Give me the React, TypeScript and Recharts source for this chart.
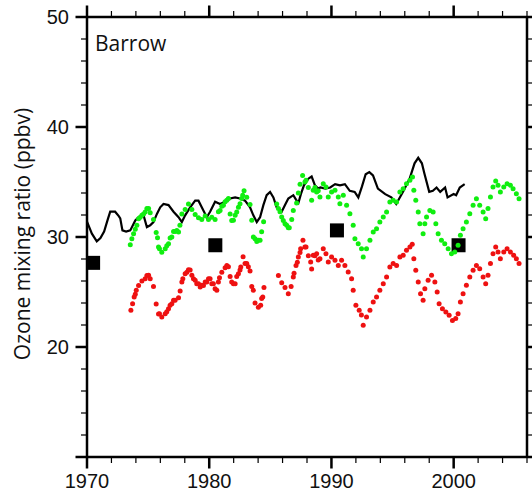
import React from 'react';
import { ComposedChart, Scatter, XAxis, YAxis, ReferenceLine } from 'recharts';

// Axis tick values: minor every 2 units, major (labelled) every 10
const xMinorTicks = [1970, 1972, 1974, 1976, 1978, 1980, 1982, 1984, 1986, 1988, 1990, 1992, 1994, 1996, 1998, 2000, 2002, 2004, 2006];
const xMajorTicks = [1970, 1980, 1990, 2000];
const yMinorTicks = [10, 12, 14, 16, 18, 20, 22, 24, 26, 28, 30, 32, 34, 36, 38, 40, 42, 44, 46, 48, 50];
const yMajorTicks = [10, 20, 30, 40, 50];

// Continuous record (black line)
const blackYears = [1970.0, 1970.4, 1970.8, 1971.1, 1971.4, 1971.7, 1971.9, 1972.3, 1972.6, 1972.72, 1972.9, 1973.2, 1973.54, 1973.95, 1974.22, 1974.63, 1974.9, 1975.17, 1975.44, 1975.72, 1975.99, 1976.26, 1976.67, 1977.08, 1977.49, 1977.76, 1978.03, 1978.44, 1978.85, 1979.12, 1979.39, 1979.8, 1980.07, 1980.48, 1980.89, 1981.3, 1981.71, 1982.12, 1982.52, 1982.93, 1983.34, 1983.61, 1983.89, 1984.16, 1984.43, 1984.7, 1984.98, 1985.25, 1985.52, 1985.93, 1986.2, 1986.47, 1986.88, 1987.1, 1987.3, 1987.5, 1987.75, 1988.11, 1988.38, 1988.65, 1988.92, 1989.1, 1989.5, 1989.9, 1990.3, 1990.7, 1991.1, 1991.5, 1991.9, 1992.2, 1992.5, 1992.8, 1993.1, 1993.4, 1993.8, 1994.4, 1994.9, 1995.3, 1995.9, 1996.4, 1996.8, 1997.1, 1997.4, 1997.6, 1998.0, 1998.3, 1998.6, 1998.9, 1999.3, 1999.5, 2000.0, 2000.2, 2000.5, 2000.9];
const blackValues = [31.4, 30.3, 29.6, 29.9, 30.5, 31.6, 32.3, 32.3, 31.9, 31.7, 30.6, 30.5, 30.6, 31.5, 31.8, 31.97, 30.9, 31.06, 31.36, 32.1, 32.7, 33.0, 32.9, 32.3, 31.8, 31.36, 31.97, 32.7, 33.3, 33.3, 32.7, 31.8, 32.3, 33.2, 33.0, 33.2, 33.5, 33.6, 33.5, 33.3, 32.7, 31.97, 31.36, 31.8, 32.9, 33.8, 34.1, 33.6, 32.7, 32.3, 32.9, 33.5, 33.8, 33.4, 33.1, 33.9, 34.7, 35.3, 35.5, 34.7, 34.4, 34.5, 34.4, 34.5, 34.8, 34.7, 34.8, 34.2, 34.1, 33.6, 34.6, 35.7, 35.9, 35.6, 34.4, 33.9, 33.6, 33.0, 34.2, 35.3, 36.7, 37.2, 36.7, 35.8, 34.1, 34.2, 34.5, 34.1, 34.5, 33.6, 33.9, 33.8, 34.5, 34.8];

// Green series
const greenYears = [1973.54, 1973.67, 1973.81, 1973.95, 1974.08, 1974.22, 1974.35, 1974.49, 1974.63, 1974.76, 1974.9, 1975.04, 1975.17, 1975.44, 1975.66, 1975.77, 1975.85, 1975.93, 1976.12, 1976.4, 1976.53, 1976.67, 1976.8, 1976.94, 1977.08, 1977.21, 1977.35, 1977.49, 1977.6, 1977.76, 1978.03, 1978.3, 1978.58, 1978.85, 1979.12, 1979.39, 1979.67, 1979.94, 1980.21, 1980.48, 1980.75, 1980.89, 1981.03, 1981.16, 1981.3, 1981.44, 1981.57, 1981.71, 1981.84, 1981.98, 1982.12, 1982.25, 1982.39, 1982.52, 1982.66, 1982.74, 1982.85, 1983.07, 1983.34, 1983.48, 1983.61, 1983.75, 1983.89, 1984.02, 1984.16, 1984.29, 1984.45, 1985.52, 1985.66, 1985.79, 1985.93, 1986.06, 1986.2, 1986.34, 1986.47, 1986.55, 1986.75, 1986.88, 1987.15, 1987.29, 1987.43, 1987.64, 1987.83, 1987.92, 1988.11, 1988.38, 1988.51, 1988.65, 1988.79, 1988.92, 1989.06, 1989.33, 1989.55, 1989.74, 1990.01, 1990.29, 1990.56, 1990.69, 1990.97, 1991.24, 1991.51, 1991.78, 1991.92, 1992.19, 1992.46, 1992.6, 1992.87, 1993.15, 1993.42, 1993.69, 1993.96, 1994.24, 1994.51, 1994.78, 1995.05, 1995.33, 1995.6, 1995.87, 1996.14, 1996.42, 1996.63, 1996.74, 1996.9, 1997.1, 1997.23, 1997.5, 1997.64, 1997.78, 1998.05, 1998.32, 1998.54, 1998.73, 1999.0, 1999.27, 1999.55, 1999.82, 2000.09, 2000.36, 2000.55, 2000.77, 2001.04, 2001.32, 2001.59, 2001.86, 2002.13, 2002.41, 2002.62, 2002.81, 2003.01, 2003.22, 2003.44, 2003.63, 2003.82, 2004.1, 2004.37, 2004.64, 2004.86, 2005.13, 2005.35];
const greenValues = [29.3, 29.85, 30.3, 30.7, 31.06, 31.67, 31.8, 31.97, 32.1, 32.27, 32.6, 32.58, 32.2, 31.6, 30.4, 29.94, 29.1, 28.94, 28.62, 28.94, 29.2, 29.39, 29.9, 30.0, 30.5, 30.5, 30.6, 30.46, 31.06, 32.1, 32.5, 33.0, 32.5, 32.05, 31.75, 31.6, 31.9, 31.6, 31.8, 31.6, 32.3, 32.42, 32.8, 32.88, 33.2, 33.33, 33.5, 32.1, 31.5, 31.52, 31.97, 32.27, 32.7, 33.03, 33.5, 33.79, 34.2, 33.62, 32.95, 31.52, 30.0, 29.85, 29.6, 29.7, 29.7, 30.48, 31.38, 33.0, 32.58, 32.3, 31.82, 31.5, 31.21, 31.06, 30.85, 30.85, 31.6, 32.4, 33.1, 34.0, 34.8, 35.6, 35.0, 35.15, 34.5, 33.33, 34.24, 34.5, 34.09, 34.2, 33.64, 34.85, 34.55, 33.64, 34.09, 34.24, 33.64, 33.03, 33.79, 32.88, 32.12, 31.06, 29.85, 29.39, 28.94, 28.18, 28.94, 29.7, 30.46, 30.76, 31.36, 31.82, 32.27, 33.18, 33.33, 33.18, 34.09, 34.39, 34.85, 35.15, 35.45, 34.24, 33.33, 32.27, 31.21, 30.3, 31.21, 31.82, 32.42, 32.27, 31.21, 30.3, 29.7, 29.39, 28.94, 28.48, 28.64, 29.24, 30.15, 30.76, 31.36, 32.12, 32.88, 33.48, 32.88, 32.27, 31.67, 32.58, 33.64, 34.55, 35.09, 34.7, 34.09, 34.55, 34.85, 34.7, 34.39, 33.94, 33.48];

// Red series
const redYears = [1973.59, 1973.73, 1973.86, 1973.95, 1974.03, 1974.22, 1974.49, 1974.76, 1974.9, 1975.04, 1975.17, 1975.44, 1975.66, 1975.85, 1975.93, 1976.12, 1976.4, 1976.53, 1976.67, 1976.8, 1976.94, 1977.08, 1977.21, 1977.49, 1977.62, 1977.76, 1977.84, 1978.03, 1978.17, 1978.3, 1978.44, 1978.58, 1978.71, 1978.85, 1978.98, 1979.12, 1979.26, 1979.39, 1979.53, 1979.67, 1979.8, 1979.94, 1980.07, 1980.21, 1980.34, 1980.48, 1980.62, 1980.75, 1980.84, 1981.03, 1981.3, 1981.44, 1981.57, 1981.71, 1981.84, 1981.98, 1982.12, 1982.25, 1982.39, 1982.52, 1982.58, 1982.77, 1982.93, 1983.07, 1983.2, 1983.34, 1983.48, 1983.61, 1983.75, 1984.02, 1984.21, 1984.29, 1984.38, 1984.48, 1985.66, 1985.93, 1986.2, 1986.47, 1986.7, 1986.88, 1986.94, 1987.1, 1987.21, 1987.29, 1987.43, 1987.48, 1987.67, 1987.83, 1987.92, 1988.11, 1988.3, 1988.38, 1988.51, 1988.65, 1988.79, 1988.92, 1989.06, 1989.33, 1989.55, 1989.74, 1990.01, 1990.29, 1990.56, 1990.83, 1991.1, 1991.37, 1991.65, 1991.78, 1992.0, 1992.27, 1992.45, 1992.6, 1992.87, 1993.15, 1993.42, 1993.69, 1993.96, 1994.24, 1994.51, 1994.78, 1995.05, 1995.33, 1995.6, 1995.87, 1996.14, 1996.42, 1996.61, 1996.74, 1996.9, 1997.1, 1997.29, 1997.5, 1997.64, 1997.91, 1998.19, 1998.46, 1998.65, 1998.81, 1999.08, 1999.36, 1999.63, 1999.9, 2000.17, 2000.36, 2000.55, 2000.77, 2001.04, 2001.32, 2001.59, 2001.86, 2002.13, 2002.41, 2002.62, 2002.81, 2003.01, 2003.22, 2003.44, 2003.63, 2003.82, 2004.1, 2004.37, 2004.64, 2004.91, 2005.13, 2005.35];
const redValues = [23.33, 23.94, 24.55, 24.8, 25.15, 25.6, 26.0, 26.21, 26.5, 26.52, 26.2, 25.5, 23.9, 23.0, 23.03, 22.72, 23.03, 23.2, 23.48, 23.8, 23.94, 24.25, 24.24, 24.47, 25.1, 25.9, 26.2, 26.67, 26.8, 27.03, 27.0, 26.52, 26.2, 26.06, 25.76, 25.76, 25.45, 25.61, 25.6, 25.91, 25.9, 26.21, 26.2, 25.76, 25.76, 25.3, 25.15, 25.9, 26.3, 26.8, 27.2, 27.42, 27.3, 26.4, 25.91, 25.76, 25.76, 26.4, 26.67, 27.0, 27.27, 28.2, 27.6, 27.58, 27.3, 26.9, 25.5, 25.15, 24.0, 23.62, 23.79, 24.4, 24.55, 25.4, 26.5, 25.85, 25.4, 24.85, 25.5, 26.36, 26.7, 27.42, 27.7, 28.18, 28.6, 28.94, 29.7, 29.1, 29.09, 28.3, 27.73, 27.1, 28.33, 28.3, 28.48, 27.9, 28.03, 28.94, 28.48, 27.73, 28.18, 27.88, 27.42, 27.88, 27.42, 26.82, 26.21, 25.15, 23.79, 23.33, 22.9, 21.97, 22.73, 23.33, 24.09, 24.55, 25.15, 25.76, 26.36, 27.27, 27.58, 27.42, 28.18, 28.33, 28.79, 29.09, 29.33, 28.03, 26.97, 25.91, 24.85, 24.24, 25.3, 26.06, 26.52, 25.91, 25.0, 23.94, 23.48, 23.18, 22.88, 22.42, 22.58, 23.03, 24.09, 24.85, 25.61, 26.36, 26.97, 27.42, 27.12, 26.36, 25.76, 26.52, 27.58, 28.48, 29.09, 28.64, 28.03, 28.64, 28.94, 28.64, 28.33, 28.03, 27.58];

// Decadal station values (black squares)
const squareYears = [1970.5, 1980.5, 1990.45, 2000.4];
const squareValues = [27.65, 29.25, 30.6, 29.25];

const X_DOMAIN: [number, number] = [1970, 2006];
const Y_DOMAIN: [number, number] = [10, 50];

const toPoints = (xs: number[], ys: number[]) => xs.map((year, i) => ({ year, value: ys[i] }));

const blackData = toPoints(blackYears, blackValues);
const greenData = toPoints(greenYears, greenValues);
const redData = toPoints(redYears, redValues);
const squareData = toPoints(squareYears, squareValues);

// Anchor points for the frame's tick marks (placed on each side of the box)
const bottomTickData = xMinorTicks.map((year) => ({ year, value: Y_DOMAIN[0] }));
const topTickData = xMinorTicks.map((year) => ({ year, value: Y_DOMAIN[1] }));
const leftTickData = yMinorTicks.map((value) => ({ year: X_DOMAIN[0], value }));
const rightTickData = yMinorTicks.map((value) => ({ year: X_DOMAIN[1], value }));

const LABEL_FONT = '"Liberation Sans", Arial, Helvetica, sans-serif';
const TITLE_FONT = '"Open Sans", "Noto Sans", sans-serif';

const MAJOR_LEN = 11.5;
const MINOR_LEN = 6;
const MAJOR_W = 2.5;
const MINOR_W = 1.2;

const isMajor = (v: number) => v % 10 === 0;

const VerticalTick = (dir: 1 | -1) => (props: any) => {
  const major = isMajor(props.payload.year);
  const len = major ? MAJOR_LEN : MINOR_LEN;
  const w = major ? MAJOR_W : MINOR_W;
  return <rect x={props.cx - w / 2} y={dir > 0 ? props.cy : props.cy - len} width={w} height={len} fill="#000" />;
};
const HorizontalTick = (dir: 1 | -1) => (props: any) => {
  const major = isMajor(props.payload.value);
  const len = major ? MAJOR_LEN : MINOR_LEN;
  const w = major ? MAJOR_W : MINOR_W;
  return <rect x={dir > 0 ? props.cx : props.cx - len} y={props.cy - w / 2} width={len} height={w} fill="#000" />;
};
const BottomTick = VerticalTick(1);
const TopTick = VerticalTick(-1);
const LeftTick = HorizontalTick(-1);
const RightTick = HorizontalTick(1);

const Dot = (color: string) => (props: any) => <circle cx={props.cx} cy={props.cy} r={2.5} fill={color} />;
const GreenDot = Dot('#10ee10');
const RedDot = Dot('#ee1111');
const Square = (props: any) => <rect x={props.cx - 7} y={props.cy - 7} width={14} height={14} fill="#000" />;
const NoMarker = () => <g />;

const frameLine = { stroke: '#000', strokeWidth: 2.5 };
const labelStyle = { fontSize: 20, fill: '#111', fontFamily: LABEL_FONT };

export default function App() {
  return (
    <div style={{ position: 'absolute', left: 0, top: 0, width: 532, height: 493, background: '#fff' }}>
      <ComposedChart width={532} height={493} margin={{ top: 17, right: 5, bottom: 0, left: 0 }}>
        <XAxis xAxisId="bottom" dataKey="year" type="number" domain={X_DOMAIN} ticks={xMajorTicks} interval={0}
          height={36} tickSize={11} tickMargin={6} tickLine={false} axisLine={frameLine} tick={labelStyle} />
        <YAxis yAxisId="left" dataKey="value" type="number" domain={Y_DOMAIN} ticks={yMajorTicks} interval={0}
          width={87} tickSize={12} tickMargin={6} tickLine={false} axisLine={frameLine}
          tick={labelStyle} tickFormatter={(v: number) => (v === 10 ? '' : String(v))} />

        {/* top and right sides of the frame */}
        <ReferenceLine xAxisId="bottom" yAxisId="left" y={Y_DOMAIN[1]} stroke="#000" strokeWidth={2.5} />
        <ReferenceLine xAxisId="bottom" yAxisId="left" x={X_DOMAIN[1]} stroke="#000" strokeWidth={2.5} />

        {/* outward tick marks on all four sides */}
        <Scatter xAxisId="bottom" yAxisId="left" data={bottomTickData} dataKey="value" shape={BottomTick} isAnimationActive={false} />
        <Scatter xAxisId="bottom" yAxisId="left" data={topTickData} dataKey="value" shape={TopTick} isAnimationActive={false} />
        <Scatter xAxisId="bottom" yAxisId="left" data={leftTickData} dataKey="value" shape={LeftTick} isAnimationActive={false} />
        <Scatter xAxisId="bottom" yAxisId="left" data={rightTickData} dataKey="value" shape={RightTick} isAnimationActive={false} />

        <Scatter xAxisId="bottom" yAxisId="left" data={squareData} dataKey="value" shape={Square} isAnimationActive={false} />
        <Scatter xAxisId="bottom" yAxisId="left" data={blackData} dataKey="value" shape={NoMarker}
          line={{ stroke: '#000', strokeWidth: 2.2 }} isAnimationActive={false} />
        <Scatter xAxisId="bottom" yAxisId="left" data={redData} dataKey="value" shape={RedDot} isAnimationActive={false} />
        <Scatter xAxisId="bottom" yAxisId="left" data={greenData} dataKey="value" shape={GreenDot} isAnimationActive={false} />
      </ComposedChart>
      <svg width={532} height={493} style={{ position: 'absolute', left: 0, top: 0, pointerEvents: 'none' }}>
        <text x={95} y={51} fontFamily={TITLE_FONT} fontSize={21} fill="#111">
          Barrow
        </text>
        <text x={0} y={0} transform="translate(22 234) rotate(-90)" textAnchor="middle" dominantBaseline="central"
          fontFamily={TITLE_FONT} fontSize={21} fill="#111">
          Ozone mixing ratio (ppbv)
        </text>
      </svg>
    </div>
  );
}
